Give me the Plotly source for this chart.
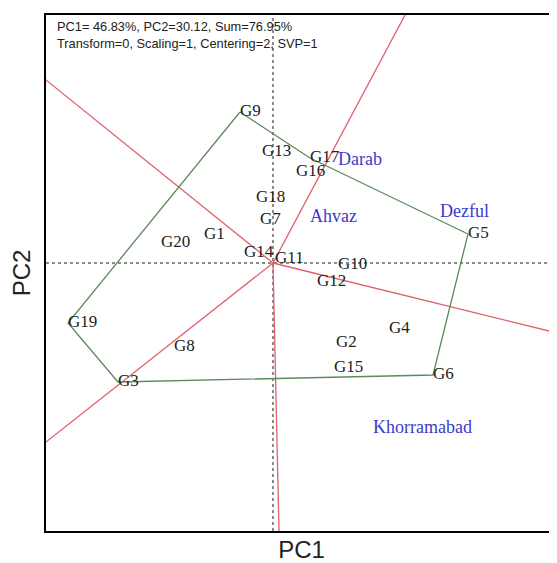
import plotly.graph_objects as go

# genotype scores (PC1, PC2)
genotypes = ["G1", "G2", "G3", "G4", "G5", "G6", "G7", "G8", "G9", "G10",
             "G11", "G12", "G13", "G14", "G15", "G16", "G17", "G18", "G19", "G20"]
g_pc1 = [-1.38, 1.26, -3.10, 2.32, 3.90, 3.20, -0.26, -1.98, -0.66, 1.30,
         0.04, 0.88, -0.22, -0.58, 1.22, 0.46, 0.74, -0.34, -4.10, -2.24]
g_pc2 = [0.56, -1.60, -2.38, -1.32, 0.58, -2.24, 0.86, -1.68, 3.02, -0.04,
         0.08, -0.38, 2.22, 0.20, -2.10, 1.82, 2.10, 1.30, -1.20, 0.40]

# environment label positions
environments = ["Darab", "Ahvaz", "Dezful", "Khorramabad"]
e_pc1 = [1.30, 0.74, 3.34, 2.00]
e_pc2 = [2.06, 0.92, 1.02, -3.30]

# convex hull vertices
hull = ["G9", "G17", "G5", "G6", "G3", "G19", "G9"]

# rays from origin, perpendicular to hull sides
ray_pc1 = [2.64, -4.54, -4.54, 0.12, 5.68]
ray_pc2 = [4.96, 3.66, -3.58, -5.36, -1.40]

x_range = [-4.54, 5.68]
y_range = [-5.36, 4.96]

fig = go.Figure()

# dotted axes through origin
fig.add_shape(type="line", x0=x_range[0], x1=x_range[1], y0=0, y1=0,
              line=dict(color="#666666", width=1.5, dash="dot"), layer="below")
fig.add_shape(type="line", x0=0, x1=0, y0=y_range[0], y1=y_range[1],
              line=dict(color="#666666", width=1.5, dash="dot"), layer="below")

# rays
for rx, ry in zip(ray_pc1, ray_pc2):
    fig.add_trace(go.Scatter(
        x=[0, rx * 1.5], y=[0, ry * 1.5], mode="lines",
        line=dict(color="#e0606c", width=1.3), hoverinfo="skip", showlegend=False
    ))

# polygon
idx = [genotypes.index(g) for g in hull]
fig.add_trace(go.Scatter(
    x=[g_pc1[i] for i in idx], y=[g_pc2[i] for i in idx], mode="lines",
    line=dict(color="#5b8a5b", width=1.3), hoverinfo="skip", showlegend=False
))

# genotype labels
fig.add_trace(go.Scatter(
    x=g_pc1, y=g_pc2, mode="text", text=genotypes, textposition="middle right",
    textfont=dict(family="Liberation Serif", size=17, color="#222222"),
    showlegend=False
))

# environment labels
fig.add_trace(go.Scatter(
    x=e_pc1, y=e_pc2, mode="text", text=environments, textposition="middle right",
    textfont=dict(family="Liberation Serif", size=18, color="#3a3acc"),
    showlegend=False
))

fig.add_annotation(
    xref="paper", yref="paper", x=0.018, y=0.997, xanchor="left", yanchor="top",
    align="left", showarrow=False,
    text="PC1= 46.83%, PC2=30.12, Sum=76.95%<br>Transform=0, Scaling=1, Centering=2, SVP=1",
    font=dict(family="Liberation Sans", size=12.8, color="#222222")
)

# page body adds 8px margin, so the figure is sized to compensate
fig.update_layout(
    width=549, height=555,
    margin=dict(l=38, r=0, t=7, b=32),
    paper_bgcolor="white", plot_bgcolor="white",
    xaxis=dict(range=x_range, showgrid=False, zeroline=False, showticklabels=False,
               ticks="", showline=True, linecolor="black", linewidth=2, mirror=True,
               title=dict(text="PC1", font=dict(family="Liberation Sans", size=24, color="#222222"),
                          standoff=16), automargin=False),
    yaxis=dict(range=y_range, showgrid=False, zeroline=False, showticklabels=False,
               ticks="", showline=True, linecolor="black", linewidth=2,
               title=dict(text="PC2", font=dict(family="Liberation Sans", size=24, color="#222222"),
                          standoff=7), automargin=False),
)

fig.write_html("out.html")
